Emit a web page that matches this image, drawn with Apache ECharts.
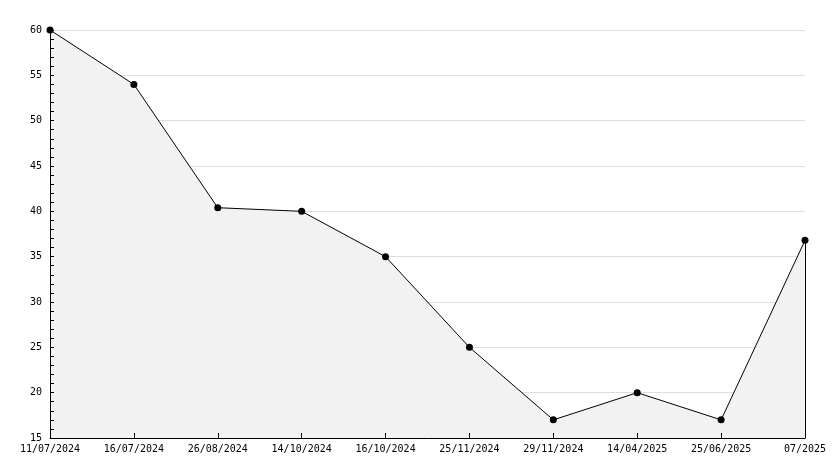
<!DOCTYPE html>
<html><head><meta charset="utf-8">
<script src="https://cdn.jsdelivr.net/npm/echarts@6/dist/echarts.min.js"></script>
<style>html,body{margin:0;padding:0;background:#fff}#c{width:834px;height:468px}</style>
</head><body><div id="c"></div>
<script>
const categories = ["11/07/2024","16/07/2024","26/08/2024","14/10/2024","16/10/2024","25/11/2024","29/11/2024","14/04/2025","25/06/2025","07/2025"];
const values = [60, 54, 40.4, 40, 35, 25, 17, 20, 17, 36.8];
const yMin = 15, yMax = 60, yInterval = 5;

const font = {fontFamily: "DejaVu Sans Mono", fontSize: 10, color: "#000"};
const lastIdx = values.length - 1;
const gridLeft = 50, gridRight = 29, W = 834;
const chart = echarts.init(document.getElementById('c'), null, {renderer: 'canvas'});
chart.setOption({
  animation: false,
  backgroundColor: '#fff',
  grid: {left: gridLeft, right: gridRight, top: 30, bottom: 30, containLabel: false},
  xAxis: {
    type: 'category', data: categories, boundaryGap: false, z: 10,
    axisLine: {onZero: false, lineStyle: {color: '#000', width: 1}},
    axisTick: {inside: true, length: 5, lineStyle: {color: '#000'}},
    axisLabel: Object.assign({interval: 0, margin: 6}, font),
    splitLine: {show: false}
  },
  yAxis: [{
    type: 'value', min: yMin, max: yMax, interval: yInterval, z: 0,
    axisLine: {show: false}, axisTick: {show: false}, axisLabel: {show: false},
    splitLine: {show: true, lineStyle: {color: '#dddddd', width: 1}}
  }, {
    type: 'value', min: yMin, max: yMax, interval: yInterval, position: 'left', z: 10,
    axisLine: {show: true, onZero: false, lineStyle: {color: '#000', width: 1}},
    axisTick: {show: false},
    axisLabel: Object.assign({margin: 8}, font),
    splitLine: {show: false}
  }, {
    type: 'value', min: yMin, max: yMax, interval: yInterval, position: 'right', z: 10,
    offset: -(W - gridLeft - gridRight),
    axisLine: {show: false, onZero: false},
    axisTick: {show: true, length: 4, lineStyle: {color: '#000'}},
    minorTick: {show: true, splitNumber: 5, length: 4, lineStyle: {color: '#000'}},
    axisLabel: {show: false},
    splitLine: {show: false}
  }],
  series: [{
    type: 'line', data: values, yAxisIndex: 0,
    symbol: 'circle', symbolSize: 7,
    itemStyle: {color: '#000'},
    lineStyle: {color: '#000', width: 1},
    areaStyle: {color: '#f2f2f2', opacity: 1, origin: 'start'},
    markLine: {
      silent: true, symbol: 'none', label: {show: false},
      lineStyle: {color: '#000', width: 1, type: 'solid'},
      data: [[{coord: [lastIdx, values[lastIdx]]}, {coord: [lastIdx, yMin]}]]
    }
  }]
});
</script></body></html>
